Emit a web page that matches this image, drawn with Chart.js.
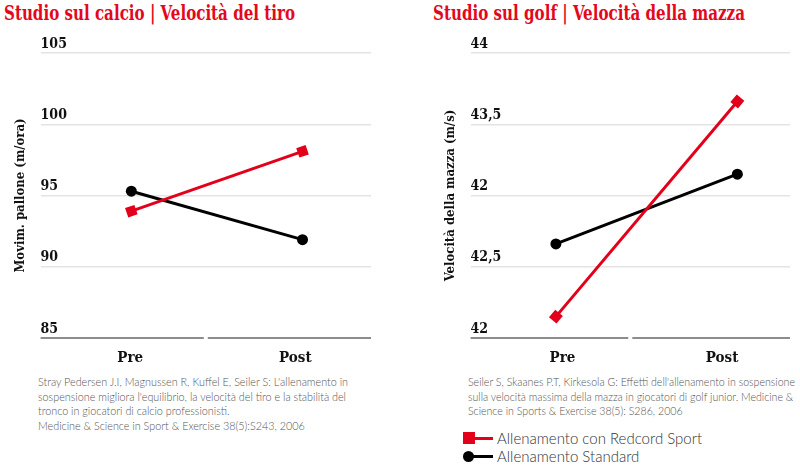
<!DOCTYPE html>
<html>
<head>
<meta charset="utf-8">
<script src="https://cdn.jsdelivr.net/npm/chart.js@4"></script>
<style>
  body { margin:0; width:800px; height:466px; background:#fff; position:relative; overflow:hidden; }
  .title { position:absolute; top:0; font:bold 21px 'DejaVu Serif Condensed','DejaVu Serif',serif; color:#e3081c; line-height:26px; white-space:nowrap; transform-origin:0 0; }
  .cite { position:absolute; top:375px; font:300 12px Lato,sans-serif; color:#555; line-height:14.6px; white-space:nowrap; transform-origin:0 0; }
  .legend { position:absolute; left:463px; font:300 15px Lato,sans-serif; color:#333; white-space:nowrap; }
  .legend div { position:relative; height:18px; line-height:18px; padding-left:34px; }
  .legend .ln { position:absolute; left:4px; top:8px; width:26px; height:3px; }
  .legend .sq { position:absolute; left:0; top:3px; width:12px; height:12px; background:#e2001a; }
  .legend .ci { position:absolute; left:0; top:4px; width:11px; height:11px; border-radius:50%; background:#000; }
  canvas { position:absolute; top:0; }
</style>
</head>
<body>
<div class="title" data-w="291" style="left:4px">Studio sul calcio | Velocità del tiro</div>
<div class="title" data-w="312" style="left:433px">Studio sul golf | Velocità della mazza</div>
<div style="position:absolute;left:0;top:0;width:400px;height:374px"><canvas id="chart1"></canvas></div>
<div style="position:absolute;left:400px;top:0;width:400px;height:374px"><canvas id="chart2"></canvas></div>
<div class="cite" data-w="310" style="left:38px">Stray Pedersen J.I, Magnussen R, Kuffel E, Seiler S: L'allenamento in<br>sospensione migliora l'equilibrio, la velocità del tiro e la stabilità del<br>tronco in giocatori di calcio professionisti.<br>Medicine &amp; Science in Sport &amp; Exercise 38(5):S243, 2006</div>
<div class="cite" data-w="327" style="left:468px">Seiler S, Skaanes P.T, Kirkesola G: Effetti dell'allenamento in sospensione<br>sulla velocità massima della mazza in giocatori di golf junior. Medicine &amp;<br>Science in Sports &amp; Exercise 38(5): S286, 2006</div>
<div class="legend" style="top:429px">
  <div><span class="ln" style="background:#e2001a"></span><span class="sq"></span>Allenamento con Redcord Sport</div>
  <div><span class="ln" style="background:#000"></span><span class="ci"></span>Allenamento Standard</div>
</div>
<script>
const categories = ['Pre', 'Post'];

// Studio sul calcio - velocità del tiro
const calcioRedcord = [93.9, 98.1];
const calcioStandard = [95.3, 91.9];

// Studio sul golf - velocità della mazza
const golfRedcord = [42.15, 43.66];
const golfStandard = [42.66, 43.15];
const golfTickLabels = ['42', '42,5', '42', '43,5', '44'];

const RED = '#e2001a';
const SLAB = "'DejaVu Serif Condensed','DejaVu Serif',serif";

// fit titles / citations to their original width
document.querySelectorAll('[data-w]').forEach(el => {
  const w = el.getBoundingClientRect().width;
  el.style.transform = 'scaleX(' + (el.dataset.w / w) + ')';
});

const splitBaseline = {
  id: 'splitBaseline',
  afterDraw(chart) {
    const { ctx, chartArea: { left, right, bottom } } = chart;
    const mid = (left + right) / 2;
    ctx.save();
    ctx.strokeStyle = '#8d8d8d';
    ctx.lineWidth = 2;
    ctx.beginPath();
    ctx.moveTo(left, bottom); ctx.lineTo(mid - 2, bottom);
    ctx.moveTo(mid + 2, bottom); ctx.lineTo(right, bottom);
    ctx.stroke();
    ctx.restore();
  }
};

const toXY = arr => arr.map((y, i) => ({ x: i, y }));

function makeChart(id, red, black, yMin, yMax, step, yTitle, tickCb, pad, redRot, xr, lblOff) {
  return new Chart(document.getElementById(id), {
    type: 'line',
    data: {
      labels: categories,
      datasets: [
        { data: toXY(red), xAxisID: 'xp', borderColor: RED, backgroundColor: RED, borderWidth: 3,
          pointStyle: 'rect', pointRadius: 7, pointRotation: redRot, pointBorderWidth: 0, order: 1 },
        { data: toXY(black), xAxisID: 'xp', borderColor: '#000', backgroundColor: '#000', borderWidth: 3,
          pointStyle: 'circle', pointRadius: 5.5, pointBorderWidth: 0, order: 2 }
      ]
    },
    options: {
      responsive: true, maintainAspectRatio: false, animation: false,
      layout: { padding: pad },
      plugins: { legend: { display: false }, tooltip: { enabled: false } },
      scales: {
        x: {
          offset: true,
          grid: { display: false }, border: { display: false },
          ticks: { color: '#111', padding: 3, labelOffset: lblOff,
                   font: { family: SLAB, size: 15, weight: 'bold' } }
        },
        xp: { type: 'linear', display: false, min: xr[0], max: xr[1] },
        y: {
          min: yMin, max: yMax,
          border: { display: false },
          grid: { drawTicks: false, lineWidth: 1.5,
                  color: c => c.tick && c.tick.value === yMin ? 'rgba(0,0,0,0)' : '#e4e4e4' },
          ticks: { stepSize: step, mirror: true, padding: 0, labelOffset: -9, color: '#111',
                   font: { family: SLAB, size: 14, weight: 'bold' }, callback: tickCb },
          title: { display: true, text: yTitle, color: '#111', padding: { top: 9, bottom: 12 },
                   font: { family: SLAB, size: 13, weight: 'bold' } }
        }
      }
    },
    plugins: [splitBaseline]
  });
}

makeChart('chart1', calcioRedcord, calcioStandard, 85, 105, 5, 'Movim. pallone (m/ora)',
  v => v, { top: 53, left: 4, right: 29, bottom: 4 }, -19, [-0.53, 1.4], 7);
makeChart('chart2', golfRedcord, golfStandard, 42, 44, 0.5, 'Velocità della mazza (m/s)',
  (v, i) => golfTickLabels[i], { top: 53, left: 34, right: 10, bottom: 4 }, -50, [-0.47, 1.29], 12);
</script>
</body>
</html>
